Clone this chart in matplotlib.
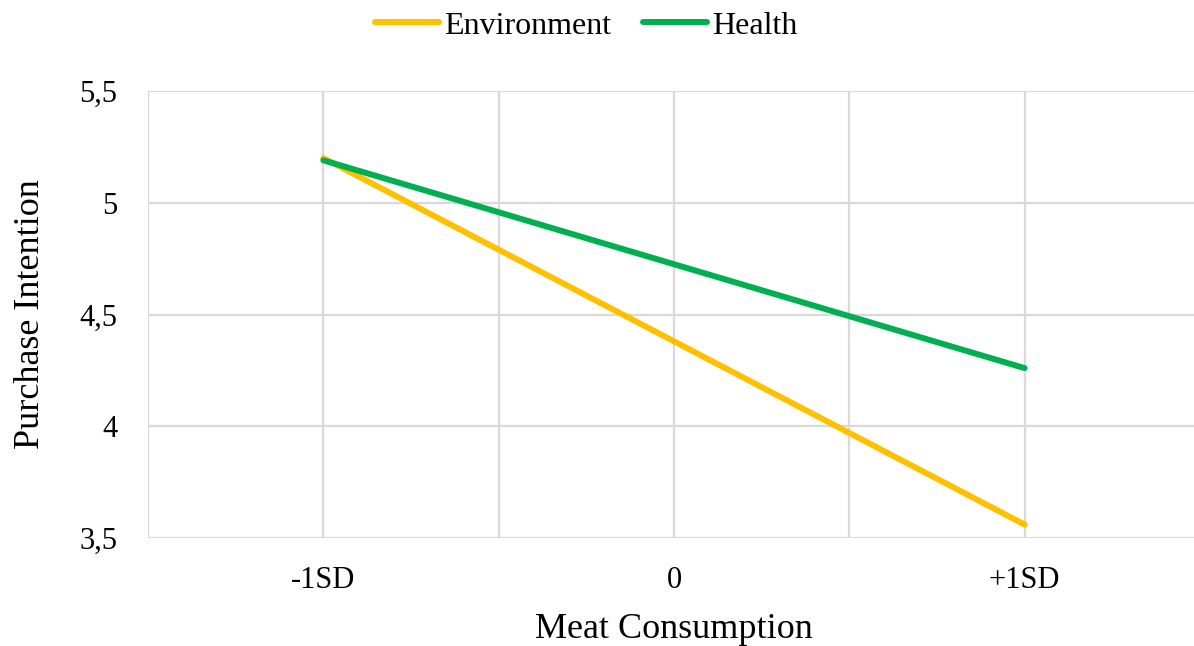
import matplotlib
matplotlib.use("Agg")
import matplotlib.pyplot as plt

# Simple slopes of purchase intention across meat consumption levels
categories = ["-1SD", "0", "+1SD"]
environment = [5.20, 4.38, 3.56]
health = [5.19, 4.725, 4.26]
y_ticks = [3.5, 4.0, 4.5, 5.0, 5.5]
y_tick_labels = ["3,5", "4", "4,5", "5", "5,5"]

plt.rcParams["font.family"] = ["Liberation Serif", "DejaVu Serif"]

W, H = 1194, 646
fig = plt.figure(figsize=(W / 100, H / 100), dpi=100)
left, right, top, bottom = 148, 1200, 91, 538
ax = fig.add_axes([left / W, 1 - bottom / H, (right - left) / W, (bottom - top) / H])

x = list(range(-1, len(categories) - 1))
ax.plot(x, environment, color="#FFC000", lw=4.3, solid_capstyle="round", label="Environment", zorder=3)
ax.plot(x, health, color="#00B050", lw=4.3, solid_capstyle="round", label="Health", zorder=3)

ax.set_xlim(-1.5, 1.5)
ax.set_ylim(3.5, 5.5)
ax.set_xticks([-1.5, -1, -0.5, 0, 0.5, 1, 1.5])
ax.set_xticklabels(["", categories[0], "", categories[1], "", categories[2], ""])
ax.set_yticks(y_ticks)
ax.set_yticklabels(y_tick_labels)
ax.grid(True, color="#D9D9D9", lw=1.6)
ax.set_axisbelow(True)
for s in ax.spines.values():
    s.set_visible(False)
ax.tick_params(length=0, labelsize=22, colors="black")
ax.tick_params(axis="y", pad=22)
ax.tick_params(axis="x", pad=20)

ax.set_xlabel("Meat Consumption", fontsize=26, labelpad=13)
ax.set_ylabel("Purchase Intention", fontsize=26, labelpad=23)

fig.legend(loc="center", bbox_to_anchor=(0.491, 1 - 26 / H), ncol=2, frameon=False,
           fontsize=23, handlelength=2.0, handletextpad=0.17, columnspacing=1.0)

fig.savefig("out.png", dpi=100)
